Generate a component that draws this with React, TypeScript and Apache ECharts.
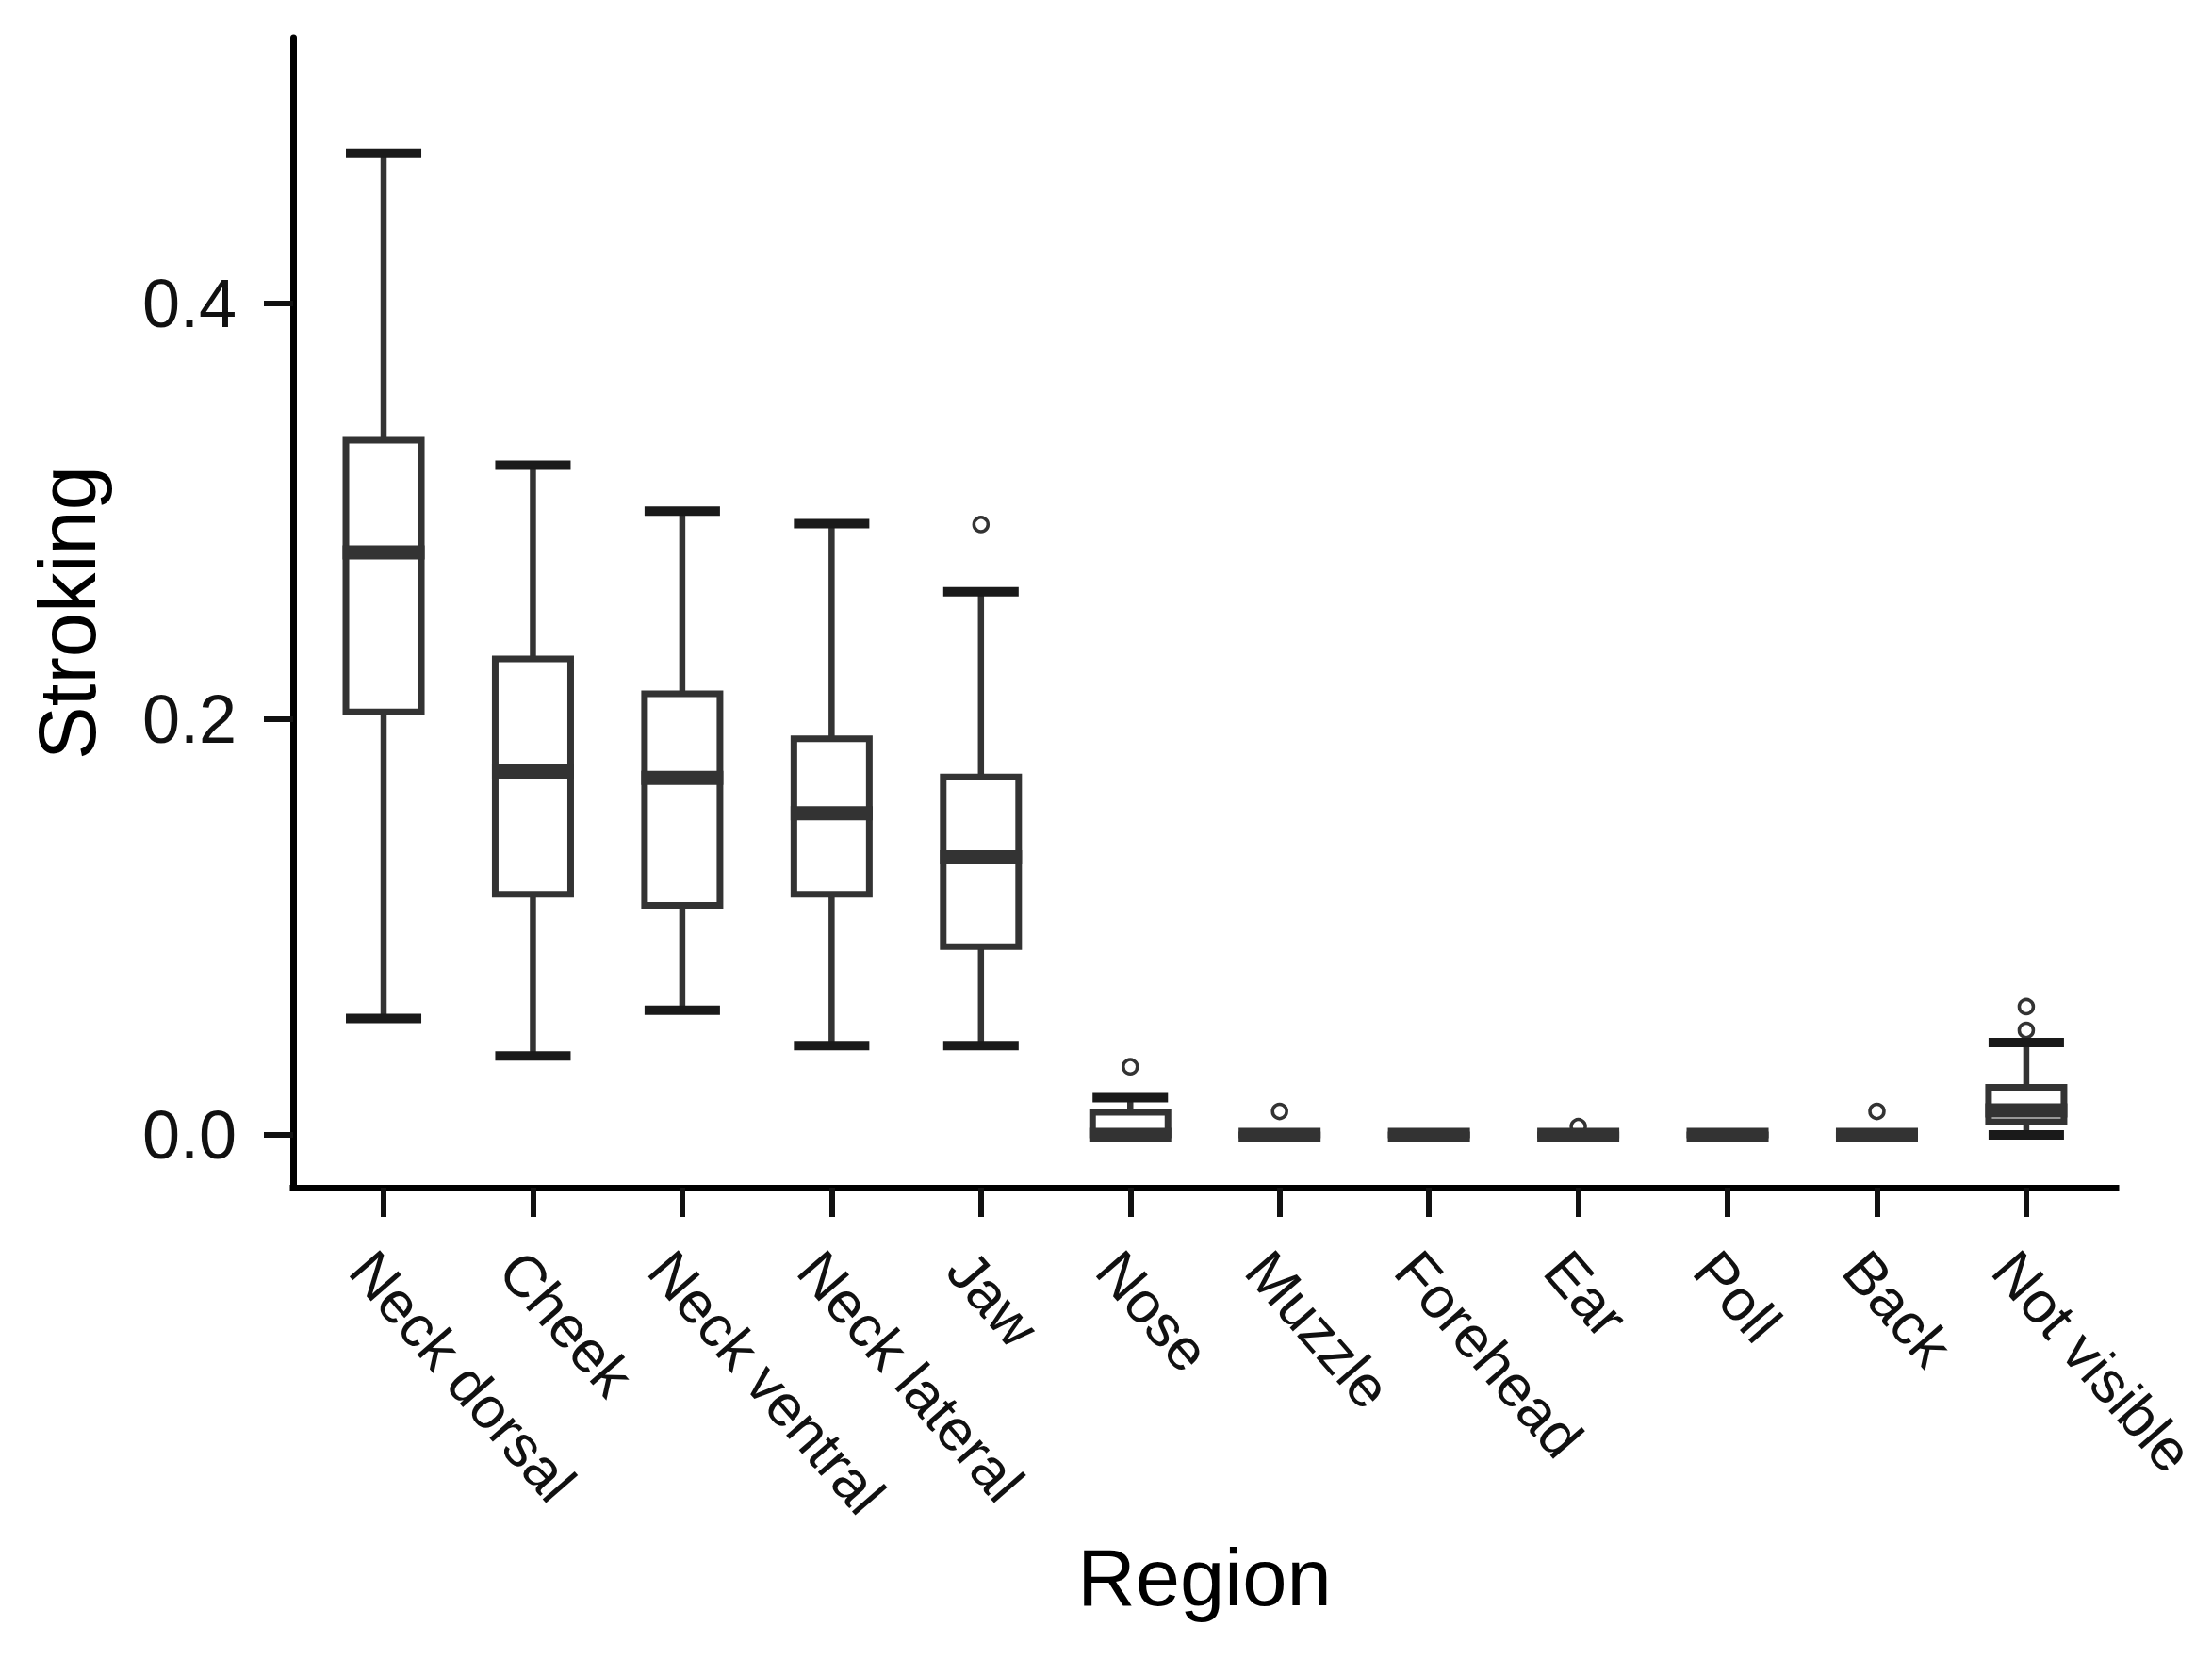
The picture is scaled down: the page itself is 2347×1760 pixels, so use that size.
import React, { useEffect, useRef } from "react";
import * as echarts from "echarts";

const categories = [
  "Neck dorsal",
  "Cheek",
  "Neck ventral",
  "Neck lateral",
  "Jaw",
  "Nose",
  "Muzzle",
  "Forehead",
  "Ear",
  "Poll",
  "Back",
  "Not visible",
];
const lowerWhisker = [0.056, 0.038, 0.06, 0.043, 0.043, 0, 0, 0, 0, 0, 0, 0];
const q1 = [0.2035, 0.1158, 0.1104, 0.1158, 0.0906, 0, 0, 0, 0, 0, 0, 0.0063];
const median = [0.2803, 0.1748, 0.1718, 0.1548, 0.1336, 0, 0, 0, 0, 0, 0, 0.0118];
const q3 = [0.3343, 0.229, 0.2122, 0.1906, 0.1722, 0.0109, 0, 0, 0, 0, 0, 0.0229];
const upperWhisker = [0.4722, 0.3222, 0.3001, 0.2941, 0.2613, 0.0179, 0, 0, 0, 0, 0, 0.0444];
const outlierCategory = [4, 5, 6, 8, 10, 11, 11];
const outlierValue = [0.2937, 0.0328, 0.0113, 0.004, 0.0113, 0.0503, 0.0617];
const yTicks = [0, 0.2, 0.4];
const xTicks = categories.map((_, i) => i);

const FONT = '"Liberation Sans", Arial, Helvetica, sans-serif';

export default function App() {
  const ref = useRef<HTMLDivElement>(null);
  useEffect(() => {
    const chart = echarts.init(ref.current as HTMLDivElement, null, { renderer: "svg" });
    const boxData = categories.map((_, i) => [i, lowerWhisker[i], q1[i], median[i], q3[i], upperWhisker[i]]);
    const outlierData = outlierCategory.map((c, i) => [c, outlierValue[i]]);
    const option: any = {
      animation: false,
      backgroundColor: "#ffffff",
      grid: { left: 311, top: 40, width: 1934, height: 1220, containLabel: false },
      xAxis: {
        type: "value",
        min: -0.606,
        max: 11.6,
        axisLine: { show: true, onZero: false, lineStyle: { color: "#000", width: 7, cap: "square" } },
        axisTick: { show: true, customValues: xTicks, length: 31, lineStyle: { color: "#111", width: 6 } },
        axisLabel: {
          show: true,
          customValues: xTicks,
          formatter: (v: number) => categories[Math.round(v)] ?? "",
          rotate: -49,
          align: "left",
          verticalAlign: "top",
          margin: 56,
          fontSize: 62,
          color: "#111",
          fontFamily: FONT,
        },
        splitLine: { show: false },
        name: "Region",
        nameLocation: "middle",
        nameGap: 371,
        nameTextStyle: { fontSize: 85, color: "#000", fontFamily: FONT },
      },
      yAxis: {
        type: "value",
        min: -0.0254,
        max: 0.5279,
        axisLine: { show: true, onZero: false, lineStyle: { color: "#000", width: 7 } },
        axisTick: { show: true, customValues: yTicks, length: 31, lineStyle: { color: "#111", width: 6 } },
        axisLabel: {
          show: true,
          customValues: yTicks,
          formatter: (v: number) => v.toFixed(1),
          margin: 60,
          fontSize: 72,
          color: "#111",
          fontFamily: FONT,
        },
        splitLine: { show: false },
        name: "Stroking",
        nameLocation: "middle",
        nameRotate: 90,
        nameGap: 197,
        nameTextStyle: { fontSize: 85, color: "#000", fontFamily: FONT },
      },
      series: [
        {
          type: "scatter",
          z: 1,
          data: outlierData,
          symbol: "circle",
          symbolSize: 15,
          itemStyle: { color: "#ffffff", borderColor: "#333", borderWidth: 3.5, opacity: 1 },
          silent: true,
        },
        {
          type: "custom",
          z: 2,
          data: boxData,
          encode: { x: 0, y: [1, 2, 3, 4, 5] },
          renderItem: (params: any, api: any) => {
            const i = api.value(0);
            const pLo = api.coord([i, api.value(1)]);
            const x = pLo[0];
            const yLo = pLo[1];
            const yQ1 = api.coord([i, api.value(2)])[1];
            const yMed = api.coord([i, api.value(3)])[1];
            const yQ3 = api.coord([i, api.value(4)])[1];
            const yHi = api.coord([i, api.value(5)])[1];
            const half = api.size([1, 0])[0] * 0.2525;
            const gray = "#333333";
            return {
              type: "group",
              children: [
                { type: "line", shape: { x1: x, y1: yQ3, x2: x, y2: yHi }, style: { stroke: gray, lineWidth: 6.5 } },
                { type: "line", shape: { x1: x, y1: yQ1, x2: x, y2: yLo }, style: { stroke: gray, lineWidth: 6.5 } },
                { type: "line", shape: { x1: x - half, y1: yHi, x2: x + half, y2: yHi }, style: { stroke: "#1a1a1a", lineWidth: 10 } },
                { type: "line", shape: { x1: x - half, y1: yLo, x2: x + half, y2: yLo }, style: { stroke: "#1a1a1a", lineWidth: 10 } },
                {
                  type: "rect",
                  shape: { x: x - half, y: yQ3, width: 2 * half, height: Math.max(yQ1 - yQ3, 0.01) },
                  style: { fill: "#ffffff", stroke: gray, lineWidth: 7 },
                },
                { type: "line", shape: { x1: x - half - 3.5, y1: yMed, x2: x + half + 3.5, y2: yMed }, style: { stroke: gray, lineWidth: 15 } },
              ],
            };
          },
        },
      ],
    };
    chart.setOption(option);
    return () => chart.dispose();
  }, []);
  return (
    <div
      ref={ref}
      style={{ position: "absolute", left: 0, top: 0, width: 2347, height: 1760, background: "#ffffff" }}
    />
  );
}
